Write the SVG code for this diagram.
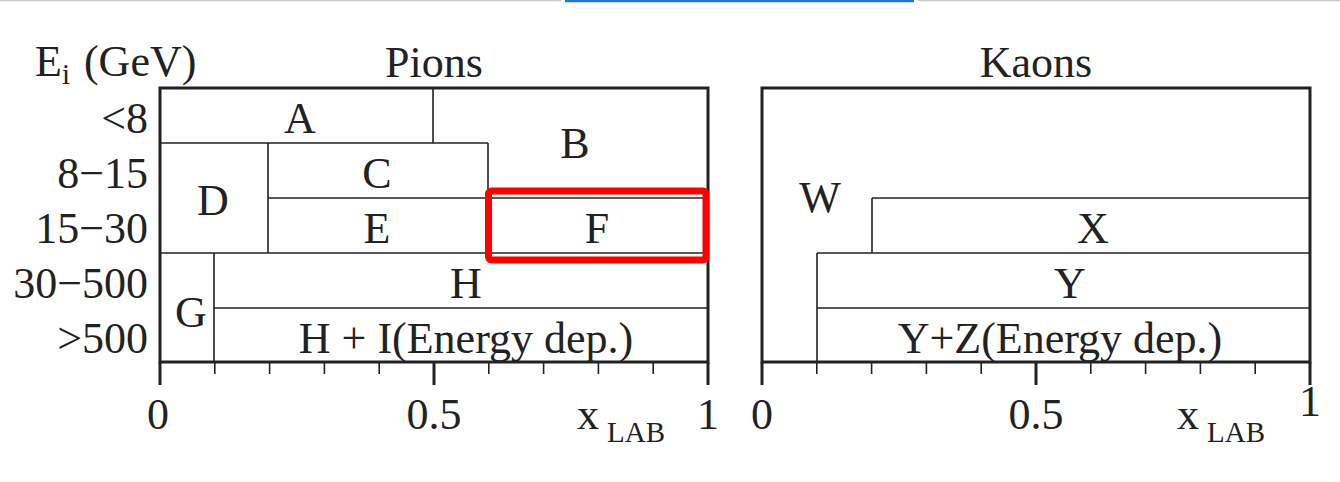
<svg xmlns="http://www.w3.org/2000/svg" width="1340" height="482" viewBox="0 0 1340 482">
<style>
text{font-family:"Liberation Serif","Times New Roman",serif;fill:#222;}
.t{font-size:44px;}
.c{text-anchor:middle;}
.e{text-anchor:end;}
.sub{font-size:29px;}
.frame{fill:none;stroke:#222;stroke-width:3;}
.ln{fill:none;stroke:#222;stroke-width:1.6;}
.tk{stroke:#222;stroke-width:1.6;}
.tkM{stroke:#222;stroke-width:3;}
.hl{fill:none;stroke:#ff0000;stroke-width:7;}
</style>
<g id="page-bar">
<line x1="0" y1="0.5" x2="561" y2="0.5" stroke="#c8c8c8" stroke-width="1.5"/>
<line x1="918" y1="0.5" x2="1340" y2="0.5" stroke="#c8c8c8" stroke-width="1.5"/>
<line x1="565" y1="1" x2="914" y2="1" stroke="#1f77e0" stroke-width="2.5"/>
</g>
<g id="labels-axis-y">
<text class="t" x="35" y="76">E<tspan class="sub" dy="8">i</tspan><tspan dx="3" dy="-8"> (GeV)</tspan></text>
<text class="t e" x="148" y="133">&lt;8</text>
<text class="t e" x="148" y="188">8−15</text>
<text class="t e" x="148" y="243">15−30</text>
<text class="t e" x="148" y="298">30−500</text>
<text class="t e" x="148" y="353">&gt;500</text>
</g>
<g id="pions-panel">
<text class="t c" x="434" y="77">Pions</text>
<rect class="frame" x="160" y="88" width="548" height="274"/>
</g>
<g id="kaons-panel">
<text class="t c" x="1036" y="77">Kaons</text>
<rect class="frame" x="762" y="88" width="548" height="274"/>
</g>
<g id="connectors">
<line class="ln" x1="433" y1="88" x2="433" y2="143"/>
<line class="ln" x1="160" y1="143" x2="488" y2="143"/>
<line class="ln" x1="488" y1="143" x2="488" y2="253"/>
<line class="ln" x1="268" y1="143" x2="268" y2="253"/>
<line class="ln" x1="268" y1="198" x2="708" y2="198"/>
<line class="ln" x1="160" y1="253" x2="708" y2="253"/>
<line class="ln" x1="214" y1="253" x2="214" y2="362"/>
<line class="ln" x1="214" y1="308" x2="708" y2="308"/>
<line class="ln" x1="872" y1="198" x2="1310" y2="198"/>
<line class="ln" x1="872" y1="198" x2="872" y2="253"/>
<line class="ln" x1="817" y1="253" x2="1310" y2="253"/>
<line class="ln" x1="817" y1="253" x2="817" y2="362"/>
<line class="ln" x1="817" y1="308" x2="1310" y2="308"/>
</g>
<g id="ticks-pions">
<line class="tkM" x1="160" y1="362" x2="160" y2="385"/>
<line class="tk" x1="214.8" y1="362" x2="214.8" y2="374"/>
<line class="tk" x1="269.6" y1="362" x2="269.6" y2="374"/>
<line class="tk" x1="324.4" y1="362" x2="324.4" y2="374"/>
<line class="tk" x1="379.2" y1="362" x2="379.2" y2="374"/>
<line class="tkM" x1="434" y1="362" x2="434" y2="385"/>
<line class="tk" x1="488.8" y1="362" x2="488.8" y2="374"/>
<line class="tk" x1="543.6" y1="362" x2="543.6" y2="374"/>
<line class="tk" x1="598.4" y1="362" x2="598.4" y2="374"/>
<line class="tk" x1="653.2" y1="362" x2="653.2" y2="374"/>
<line class="tkM" x1="708" y1="362" x2="708" y2="385"/>
</g>
<g id="ticks-kaons">
<line class="tkM" x1="762" y1="362" x2="762" y2="385"/>
<line class="tk" x1="816.8" y1="362" x2="816.8" y2="374"/>
<line class="tk" x1="871.6" y1="362" x2="871.6" y2="374"/>
<line class="tk" x1="926.4" y1="362" x2="926.4" y2="374"/>
<line class="tk" x1="981.2" y1="362" x2="981.2" y2="374"/>
<line class="tkM" x1="1036" y1="362" x2="1036" y2="385"/>
<line class="tk" x1="1090.8" y1="362" x2="1090.8" y2="374"/>
<line class="tk" x1="1145.6" y1="362" x2="1145.6" y2="374"/>
<line class="tk" x1="1200.4" y1="362" x2="1200.4" y2="374"/>
<line class="tk" x1="1255.2" y1="362" x2="1255.2" y2="374"/>
<line class="tkM" x1="1310" y1="362" x2="1310" y2="385"/>
</g>
<g id="labels-axis-x">
<text class="t c" x="158" y="429">0</text>
<text class="t c" x="434" y="429">0.5</text>
<text class="t" x="577" y="429">x<tspan class="sub" dx="8" dy="13">LAB</tspan></text>
<text class="t c" x="708" y="429">1</text>
<text class="t c" x="762" y="429">0</text>
<text class="t c" x="1036" y="429">0.5</text>
<text class="t" x="1177" y="429">x<tspan class="sub" dx="8" dy="13">LAB</tspan></text>
<text class="t c" x="1310" y="416">1</text>
</g>
<g id="region-A"><text class="t c" x="300" y="133">A</text></g>
<g id="region-B"><text class="t c" x="575" y="158">B</text></g>
<g id="region-C"><text class="t c" x="377" y="188">C</text></g>
<g id="region-D"><text class="t c" x="213" y="215">D</text></g>
<g id="region-E"><text class="t c" x="377" y="243">E</text></g>
<g id="region-F"><text class="t c" x="597" y="243">F</text></g>
<g id="region-G"><text class="t c" x="191" y="327">G</text></g>
<g id="region-H"><text class="t c" x="466" y="298">H</text></g>
<g id="region-HI"><text class="t c" x="466" y="353">H + I(Energy dep.)</text></g>
<g id="region-W"><text class="t c" x="820" y="212">W</text></g>
<g id="region-X"><text class="t c" x="1093" y="243">X</text></g>
<g id="region-Y"><text class="t c" x="1070" y="298">Y</text></g>
<g id="region-YZ"><text class="t c" x="1060" y="353">Y+Z(Energy dep.)</text></g>
<g id="highlight-F">
<rect class="hl" x="488.5" y="191" width="217.5" height="69" rx="3"/>
</g>
</svg>
